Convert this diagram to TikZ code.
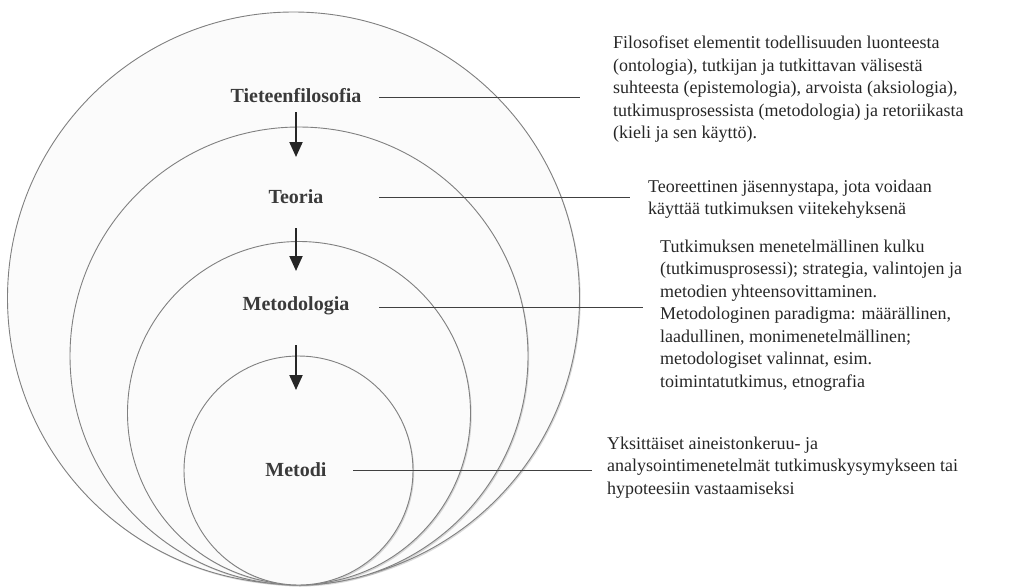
\documentclass[tikz,border=0pt]{standalone}
\usepackage{fontspec}
\setmainfont{Liberation Serif}
\usepackage{xcolor}
\usepackage{tikz}
\usetikzlibrary{arrows.meta, shadows}

\definecolor{ringgray}{HTML}{808080}
\definecolor{ringfill}{HTML}{FBFBFB}
\definecolor{labelgray}{HTML}{3A3A3A}
\definecolor{textgray}{HTML}{262626}

\begin{document}
\begin{tikzpicture}[x=1pt, y=-1pt,
    ring/.style={circle, draw=ringgray, fill=ringfill, line width=0.9pt, inner sep=0pt, drop shadow={shadow xshift=1.2pt, shadow yshift=-1.5pt, opacity=0.3}},
    level/.style={inner sep=0pt, text=labelgray, font=\fontsize{20}{22}\selectfont\bfseries},
    desc/.style={anchor=west, align=left, inner sep=0pt, text=textgray, font=\fontsize{18}{22.5}\selectfont},
    arrow/.style={-{Triangle[length=15pt, width=13pt]}, line width=2pt, draw=black!85},
    leader/.style={line width=1pt, draw=black!75}
]
\useasboundingbox (0,0) rectangle (1014,587);

\node[ring, minimum size=572pt] (ring0) at (293.5,298) {};
\node[ring, minimum size=458pt] (ring1) at (299,356) {};
\node[ring, minimum size=343pt] (ring2) at (299,413) {};
\node[ring, minimum size=229pt] (ring3) at (298.5,470.5) {};

\node[level] (lvl0) at (296,96) {Tieteenfilosofia};
\node[level] (lvl1) at (296,197) {Teoria};
\node[level] (lvl2) at (296,306) {Metodologia};
\node[level] (lvl3) at (296,470) {Metodi};

\node[desc] (desc0) at (613,89.5) {Filosofiset elementit todellisuuden luonteesta\\(ontologia), tutkijan ja tutkittavan välisestä\\suhteesta (epistemologia), arvoista (aksiologia),\\tutkimusprosessista (metodologia) ja retoriikasta\\(kieli ja sen käyttö).};
\node[desc] (desc1) at (648,199) {Teoreettinen jäsennystapa, jota voidaan\\käyttää tutkimuksen viitekehyksenä};
\node[desc] (desc2) at (660,315.5) {Tutkimuksen menetelmällinen kulku\\(tutkimusprosessi); strategia, valintojen ja\\metodien yhteensovittaminen.\\Metodologinen paradigma: määrällinen,\\laadullinen, monimenetelmällinen;\\metodologiset valinnat, esim.\\toimintatutkimus, etnografia};
\node[desc] (desc3) at (607,467.5) {Yksittäiset aineistonkeruu- ja\\analysointimenetelmät tutkimuskysymykseen tai\\hypoteesiin vastaamiseksi};

\coordinate (lead0) at (379,97);
\coordinate (lead1) at (379,197);
\coordinate (lead2) at (379,307);
\coordinate (lead3) at (353,470);

\foreach \a/\b/\s/\e in {lvl0/lvl1/16/40, lvl1/lvl2/31/35, lvl2/lvl3/39/80} {
    \draw[arrow, shorten <=\s pt, shorten >=\e pt] (\a.center) -- (\b.center);
}
\foreach \x/\g in {0/33, 1/18, 2/17, 3/15} {
    \draw[leader, shorten >=\g pt] (lead\x) -- (lead\x -| desc\x.west);
}

\end{tikzpicture}
\end{document}
